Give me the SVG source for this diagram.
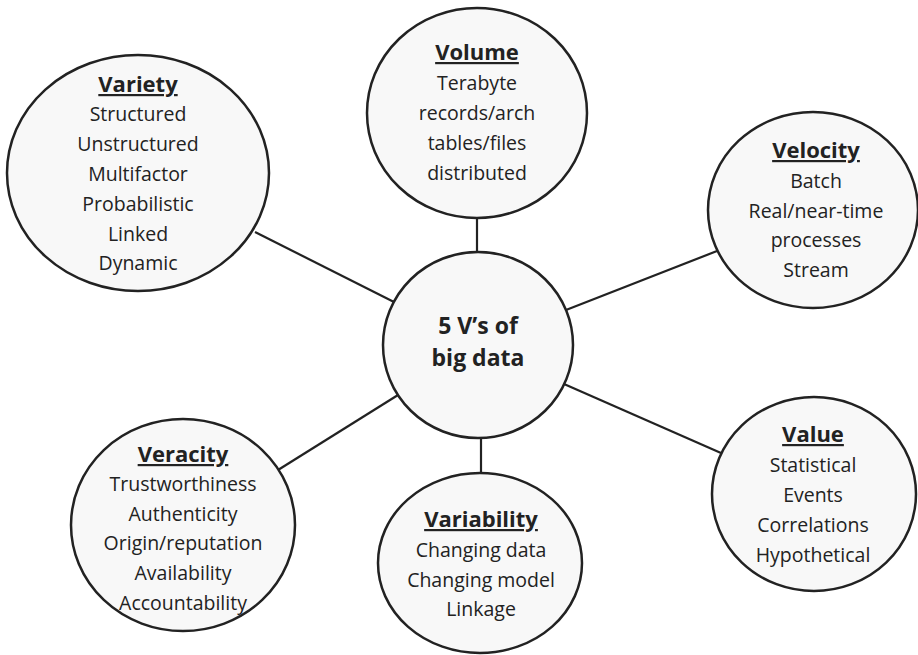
<svg xmlns="http://www.w3.org/2000/svg" width="918" height="655" viewBox="0 0 918 655">
<style>
.node{fill:#f8f8f8;stroke:#222;stroke-width:2.5}
.conn line{stroke:#222;stroke-width:2.2}
text{font-family:"Open Sans","Noto Sans","Liberation Sans",sans-serif;fill:#222;text-anchor:middle}
.t{font-size:22px;font-weight:bold;text-decoration:underline}
.b{font-size:19.5px}
.c{font-size:23px;font-weight:bold}
</style>
<rect width="918" height="655" fill="#fff"/>
<g id="connectors" class="conn">
<line x1="255" y1="232" x2="394" y2="302"/>
<line x1="477" y1="216" x2="477" y2="254"/>
<line x1="566" y1="310" x2="717" y2="251"/>
<line x1="564" y1="384" x2="721" y2="453"/>
<line x1="481" y1="436" x2="481" y2="475"/>
<line x1="278" y1="470" x2="398" y2="395"/>
</g>
<g id="center">
<ellipse class="node" cx="478" cy="345" rx="95" ry="93"/>
<text class="c" x="478" y="334">5 V’s of</text>
<text class="c" x="478" y="366">big data</text>
</g>
<g id="variety">
<ellipse class="node" cx="138" cy="173" rx="131" ry="118"/>
<text class="t" x="138" y="92">Variety</text>
<text class="b" x="138" y="121">Structured</text>
<text class="b" x="138" y="151">Unstructured</text>
<text class="b" x="138" y="181">Multifactor</text>
<text class="b" x="138" y="211">Probabilistic</text>
<text class="b" x="138" y="241">Linked</text>
<text class="b" x="138" y="270">Dynamic</text>
</g>
<g id="volume">
<ellipse class="node" cx="477" cy="113" rx="110" ry="105"/>
<text class="t" x="477" y="60">Volume</text>
<text class="b" x="477" y="90">Terabyte</text>
<text class="b" x="477" y="120">records/arch</text>
<text class="b" x="477" y="150">tables/files</text>
<text class="b" x="477" y="180">distributed</text>
</g>
<g id="velocity">
<ellipse class="node" cx="813" cy="210" rx="105" ry="98"/>
<text class="t" x="816" y="158">Velocity</text>
<text class="b" x="816" y="188">Batch</text>
<text class="b" x="816" y="218">Real/near-time</text>
<text class="b" x="816" y="247">processes</text>
<text class="b" x="816" y="277">Stream</text>
</g>
<g id="value">
<ellipse class="node" cx="814" cy="494" rx="102" ry="97"/>
<text class="t" x="813" y="442">Value</text>
<text class="b" x="813" y="472">Statistical</text>
<text class="b" x="813" y="502">Events</text>
<text class="b" x="813" y="532">Correlations</text>
<text class="b" x="813" y="562">Hypothetical</text>
</g>
<g id="variability">
<ellipse class="node" cx="480" cy="563" rx="102" ry="90"/>
<text class="t" x="481" y="527">Variability</text>
<text class="b" x="481" y="557">Changing data</text>
<text class="b" x="481" y="587">Changing model</text>
<text class="b" x="481" y="616">Linkage</text>
</g>
<g id="veracity">
<ellipse class="node" cx="183" cy="525" rx="112" ry="106"/>
<text class="t" x="183" y="462">Veracity</text>
<text class="b" x="183" y="491">Trustworthiness</text>
<text class="b" x="183" y="521">Authenticity</text>
<text class="b" x="183" y="550">Origin/reputation</text>
<text class="b" x="183" y="580">Availability</text>
<text class="b" x="183" y="610">Accountability</text>
</g>
</svg>
